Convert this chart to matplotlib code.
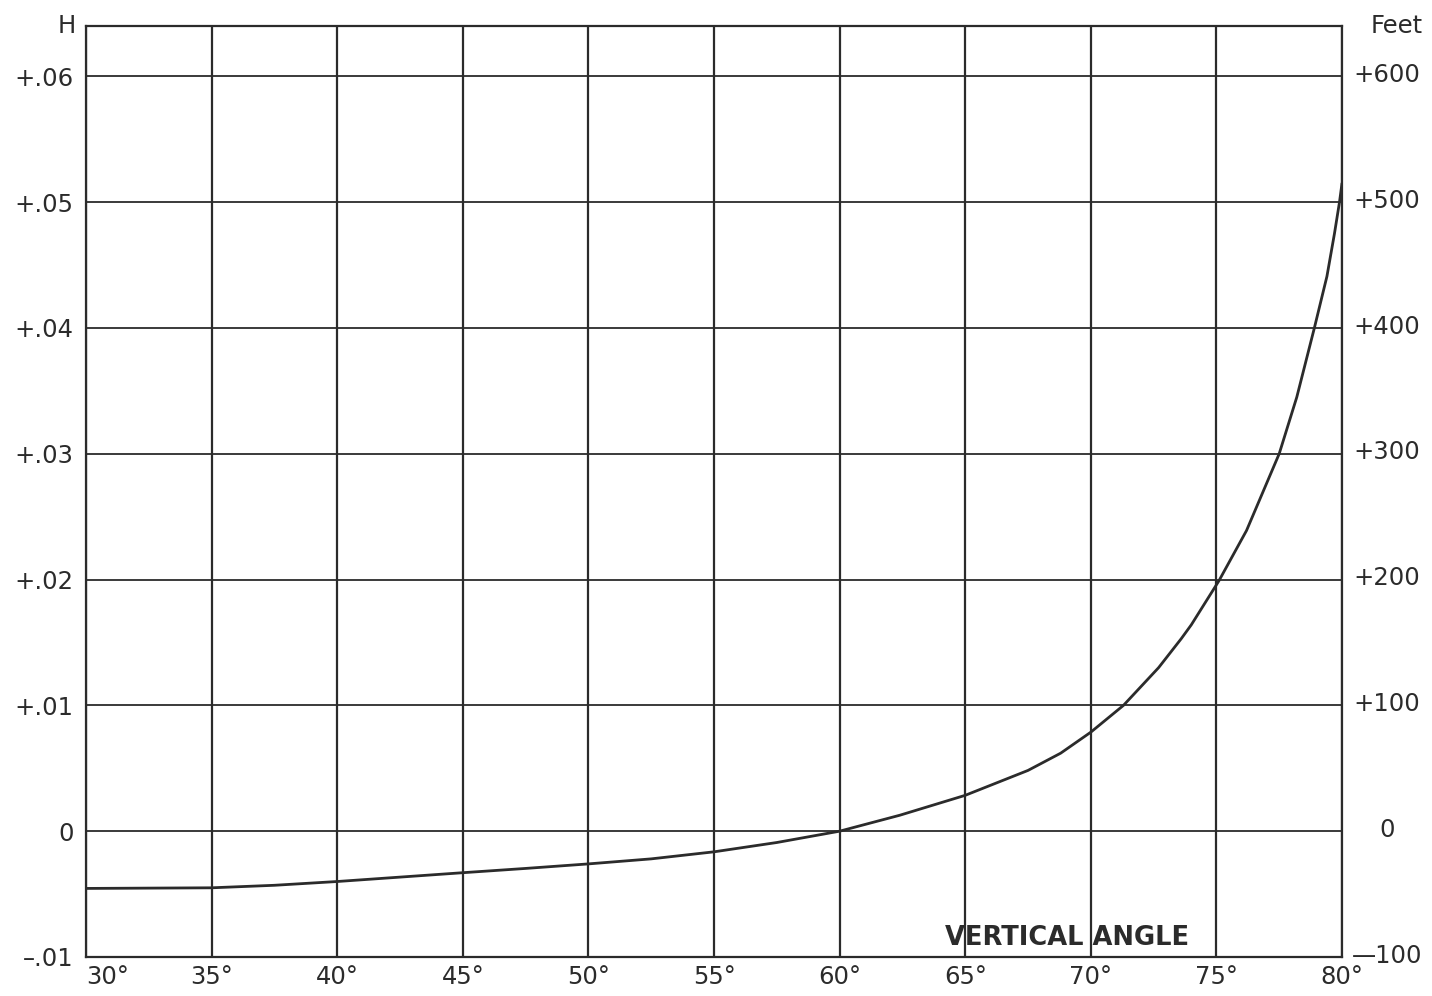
import matplotlib
matplotlib.use("Agg")
import matplotlib.pyplot as plt

# Correction H versus vertical angle (degrees)
angle_deg = [30, 35, 37.5, 40, 42.5, 45, 47.5, 50, 52.5, 55, 57.5, 60, 62.4, 65,
             67.5, 68.8, 70, 71.3, 72.7, 73.6, 74.0, 75.1, 76.2, 77.5, 78.2, 78.9,
             79.4, 79.7, 79.9, 80]
h_value = [-0.00455, -0.0045, -0.0043, -0.0040, -0.00365, -0.0033, -0.00296, -0.0026,
           -0.0022, -0.00164, -0.0009, 0.0, 0.00127, 0.00285,
           0.00483, 0.0062, 0.00787, 0.0100, 0.0130, 0.0153, 0.0164, 0.0199, 0.0239,
           0.0300, 0.0345, 0.0400, 0.0441, 0.0475, 0.0500, 0.0515]

x_ticks = [30, 35, 40, 45, 50, 55, 60, 65, 70, 75, 80]
x_tick_labels = ["30°", "35°", "40°", "45°", "50°", "55°", "60°", "65°", "70°", "75°", "80°"]
h_ticks = [-0.01, 0.0, 0.01, 0.02, 0.03, 0.04, 0.05, 0.06]
h_tick_labels = ["\u2013.01", "0", "+.01", "+.02", "+.03", "+.04", "+.05", "+.06"]
feet_ticks = [-100, 0, 100, 200, 300, 400, 500, 600]
feet_tick_labels = ["\u2014100", "0", "+100", "+200", "+300", "+400", "+500", "+600"]

ink = "#2b2b2b"
fs = 17.5

fig = plt.figure(figsize=(14.32, 9.96), dpi=100)
ax = fig.add_axes([86 / 1432, 1 - 957 / 996, (1342 - 86) / 1432, (957 - 26) / 996])
ax.set_xlim(30, 80)
ax.set_ylim(-0.01, 0.064)

for x in x_ticks:
    ax.axvline(x, color=ink, lw=1.6, zorder=1)
for y in h_ticks:
    ax.axhline(y, color=ink, lw=1.3, zorder=1)

ax.plot(angle_deg, h_value, color=ink, lw=2.0, zorder=3,
        solid_capstyle="round", solid_joinstyle="round")

for s in ax.spines.values():
    s.set_color(ink)
    s.set_linewidth(1.6)

ax.set_xticks(x_ticks)
ax.set_xticklabels(x_tick_labels, fontsize=fs, color=ink)
ax.xaxis.get_majorticklabels()[0].set_horizontalalignment("left")
ax.set_yticks(h_ticks)
ax.set_yticklabels(h_tick_labels, fontsize=fs, color=ink)
ax.tick_params(axis="both", length=0)
ax.tick_params(axis="x", pad=6)
ax.tick_params(axis="y", pad=9)

# Right-hand scale in feet (100 ft per 0.01 H)
ax2 = ax.twinx()
ax2.set_ylim(-100, 640)
ax2.set_yticks([])
for s in ax2.spines.values():
    s.set_visible(False)
for v, lab in zip(feet_ticks, feet_tick_labels):
    ax2.text(1.036, v + 1, lab, transform=ax2.get_yaxis_transform(), ha="center",
             va="center", fontsize=fs, color=ink)

ax.text(-0.008, 1.0, "H", transform=ax.transAxes, ha="right", va="center",
        fontsize=fs, color=ink)
ax.text(1.0435, 1.0, "Feet", transform=ax.transAxes, ha="center", va="center",
        fontsize=fs, color=ink)
ax.text(64.2, -0.0085, "VERTICAL ANGLE", ha="left", va="center", fontsize=18.5,
        fontweight="bold", color=ink, zorder=4)

fig.savefig("out.png", dpi=100, facecolor="white")
